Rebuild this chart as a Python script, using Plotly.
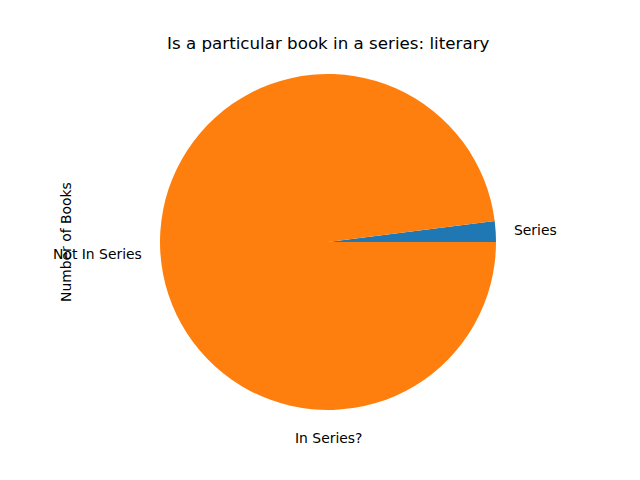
import math
import plotly.graph_objects as go

labels = ["Series", "Not In Series"]
values = [2, 98]
colors = ["#1f77b4", "#ff7f0e"]
title = "Is a particular book in a series: literary"
xlabel = "In Series?"
ylabel = "Number of Books"

W, H = 640, 480
OFF = 8  # page body margin
cx, cy, r = 328 - OFF, 242 - OFF, 168

total = sum(values)
first_frac = values[0] / total

fig = go.Figure(go.Pie(
    labels=labels, values=values, sort=False, direction="counterclockwise",
    rotation=90 - 360 * first_frac, marker=dict(colors=colors, line=dict(width=0)),
    textinfo="none", hoverinfo="label+value", showlegend=False,
    domain=dict(x=[(cx - r) / W, (cx + r) / W], y=[(H - cy - r) / H, (H - cy + r) / H]),
))

font = dict(family="DejaVu Sans", size=13.9, color="black")
anns = []
start = 0.0
for lab, v in zip(labels, values):
    frac = v / total
    mid = (start + frac / 2) * 2 * math.pi
    start += frac
    x = cx + 1.1 * r * math.cos(mid)
    y = cy - 1.1 * r * math.sin(mid)
    anns.append(dict(text=lab, x=x / W, y=1 - y / H, xref="paper", yref="paper",
                     showarrow=False, font=font,
                     xanchor="left" if math.cos(mid) >= 0 else "right", yanchor="middle"))

anns.append(dict(text=xlabel, x=cx / W, y=1 - (438 - OFF) / H, xref="paper", yref="paper",
                 showarrow=False, font=font, xanchor="center", yanchor="middle"))
anns.append(dict(text=ylabel, x=(66 - OFF) / W, y=1 - cy / H, xref="paper", yref="paper",
                 showarrow=False, font=font, textangle=-90, xanchor="center", yanchor="middle"))
anns.append(dict(text=title, x=cx / W, y=1 - (43 - OFF) / H, xref="paper", yref="paper",
                 showarrow=False, font=dict(family="DejaVu Sans", size=16.7, color="black"),
                 xanchor="center", yanchor="middle"))

fig.update_layout(width=W, height=H, margin=dict(l=0, r=0, t=0, b=0),
                  paper_bgcolor="white", plot_bgcolor="white", annotations=anns)
fig.write_html("out.html")
